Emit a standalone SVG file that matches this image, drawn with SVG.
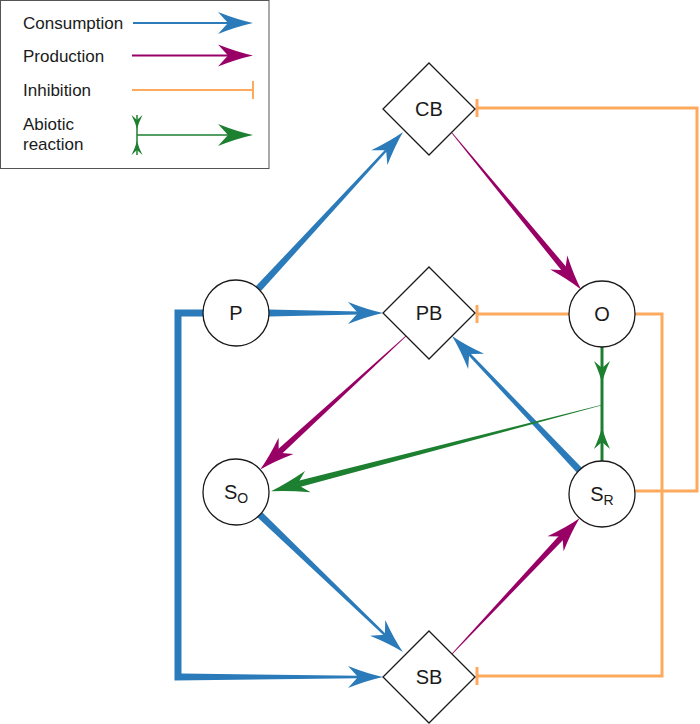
<svg xmlns="http://www.w3.org/2000/svg" xmlns:xlink="http://www.w3.org/1999/xlink" width="700" height="724" viewBox="0 0 700 724">
<style>
text{font-family:"Liberation Sans",Arial,Helvetica,sans-serif;fill:#1a1a1a}
.leg{font-size:17px}
.lbl{font-size:20px;text-anchor:middle}
.node{fill:#fff;stroke:#1a1a1a;stroke-width:1.3}
.blue{fill:#2b7bba}
.mag{fill:#990066}
.grn{fill:#1d7f30}
.inh{fill:none;stroke:#fdaa5e;stroke-width:3}
</style>
<defs>
<path id="hd" d="M0,0 Q-16,-3.5 -35,-11 L-25,0 L-35,11 Q-16,3.5 0,0Z"/>
<path id="hdg" d="M0,0 Q-17,-3.5 -38,-11 L-27,0 L-38,11 Q-17,3.5 0,0Z"/>
<path id="hds" d="M0,0 Q-10,-2.5 -22,-8 L-15,0 L-22,8 Q-10,2.5 0,0Z"/>
<path id="hdt" d="M0,0 Q-6,-1.5 -14,-5.5 L-9,0 L-14,5.5 Q-6,1.5 0,0Z"/>
</defs>

<g id="legend">
<rect x="0.5" y="0.5" width="268.5" height="168" fill="#fff" stroke="#555" stroke-width="1"/>
<text class="leg" x="23" y="29">Consumption</text>
<text class="leg" x="23" y="62">Production</text>
<text class="leg" x="23" y="96">Inhibition</text>
<text class="leg" x="23" y="130">Abiotic</text>
<text class="leg" x="23" y="150">reaction</text>
<line x1="133" y1="23" x2="230" y2="23" stroke="#2b7bba" stroke-width="2"/>
<use xlink:href="#hd" class="blue" transform="translate(253,23)"/>
<line x1="132" y1="55.5" x2="230" y2="55.5" stroke="#990066" stroke-width="2"/>
<use xlink:href="#hd" class="mag" transform="translate(253,55.5)"/>
<line x1="132" y1="90" x2="253" y2="90" stroke="#fdaa5e" stroke-width="2"/>
<line x1="253" y1="81" x2="253" y2="99" stroke="#fdaa5e" stroke-width="2"/>
<line x1="137" y1="135" x2="230" y2="135" stroke="#1d7f30" stroke-width="1.5"/>
<use xlink:href="#hd" class="grn" transform="translate(253,135)"/>
<line x1="137" y1="115" x2="137" y2="155" stroke="#1d7f30" stroke-width="1.5"/>
<use xlink:href="#hdt" class="grn" transform="translate(137,129) rotate(90)"/>
<use xlink:href="#hdt" class="grn" transform="translate(137,141) rotate(-90)"/>
</g>

<g id="connectors">
<!-- inhibitions -->
<path class="inh" d="M635,491 H697 V108 H477"/>
<line x1="477" y1="99" x2="477" y2="117" stroke="#fdaa5e" stroke-width="3"/>
<path class="inh" d="M635,314 H662 V676 H477"/>
<line x1="477" y1="667" x2="477" y2="685" stroke="#fdaa5e" stroke-width="3"/>
<path class="inh" d="M569,314 H477"/>
<line x1="477" y1="305" x2="477" y2="323" stroke="#fdaa5e" stroke-width="3"/>

<!-- consumption -->
<g class="blue" transform="translate(258.4,288.7) rotate(-47.3)">
<polygon points="0,-3.5 188.8,-1.2 188.8,1.2 0,3.5"/>
<use xlink:href="#hd" transform="translate(213.3,0)"/>
</g>
<g class="blue" transform="translate(269,313)">
<polygon points="0,-3.5 89.5,-1.5 89.5,1.5 0,3.5"/>
<use xlink:href="#hd" transform="translate(114,0)"/>
</g>
<g class="blue">
<polygon points="204,309.5 174.5,309.5 174.5,680.5 358.5,678.2 358.5,675.8 181.5,673.5 181.5,316.5 204,316.5"/>
<use xlink:href="#hd" transform="translate(383,677)"/>
</g>
<g class="blue" transform="translate(259.8,514.8) rotate(43.8)">
<polygon points="0,-3.5 173.8,-1.2 173.8,1.2 0,3.5"/>
<use xlink:href="#hd" transform="translate(198.3,0)"/>
</g>
<g class="blue" transform="translate(579.3,470.1) rotate(-133.5)">
<polygon points="0,-3.5 160.4,-1.3 160.4,1.3 0,3.5"/>
<use xlink:href="#hd" transform="translate(184.9,0)"/>
</g>

<!-- production -->
<g class="mag" transform="translate(452,133) rotate(50.5)">
<polygon points="0,-0.4 178.4,-3 178.4,3 0,0.4"/>
<use xlink:href="#hd" transform="translate(202.9,0)"/>
</g>
<g class="mag" transform="translate(406,336) rotate(137.5)">
<polygon points="0,-0.4 173.2,-3 173.2,3 0,0.4"/>
<use xlink:href="#hd" transform="translate(197.7,0)"/>
</g>
<g class="mag" transform="translate(452,654) rotate(-46.8)">
<polygon points="0,-0.4 161.8,-3 161.8,3 0,0.4"/>
<use xlink:href="#hd" transform="translate(186.3,0)"/>
</g>

<!-- abiotic reaction -->
<line x1="602" y1="347" x2="602" y2="461" stroke="#1d7f30" stroke-width="3"/>
<use xlink:href="#hds" class="grn" transform="translate(602,383) rotate(90)"/>
<use xlink:href="#hds" class="grn" transform="translate(602,427) rotate(-90)"/>
<g class="grn" transform="translate(602,405) rotate(165.4)">
<polygon points="0,-0.3 315,-3.3 315,3.3 0,0.3"/>
<use xlink:href="#hdg" transform="translate(342,0)"/>
</g>
</g>

<g id="CB"><polygon class="node" points="429,63 475,109 429,155 383,109"/><text class="lbl" x="429" y="116">CB</text></g>
<g id="PB"><polygon class="node" points="429,267 475,313 429,359 383,313"/><text class="lbl" x="429" y="320">PB</text></g>
<g id="SB"><polygon class="node" points="429,631 475,677 429,723 383,677"/><text class="lbl" x="429" y="684">SB</text></g>
<g id="P"><circle class="node" cx="236" cy="313" r="33"/><text class="lbl" x="236" y="320">P</text></g>
<g id="O"><circle class="node" cx="602" cy="314" r="33"/><text class="lbl" x="602" y="321">O</text></g>
<g id="SO"><circle class="node" cx="236" cy="492" r="33"/><text class="lbl" x="236" y="499">S<tspan font-size="14" dy="4">O</tspan></text></g>
<g id="SR"><circle class="node" cx="602" cy="494" r="33"/><text class="lbl" x="602" y="501">S<tspan font-size="14" dy="4">R</tspan></text></g>
</svg>
